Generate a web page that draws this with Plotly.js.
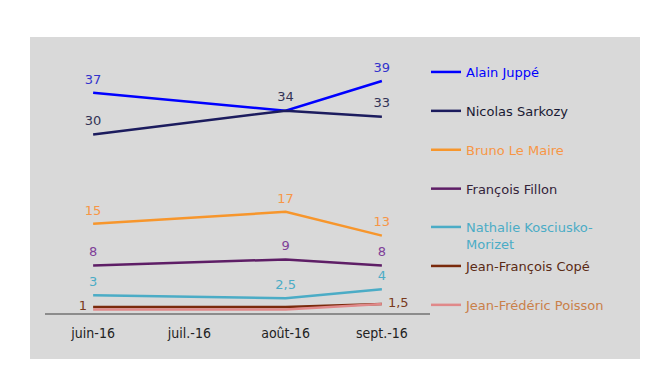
<!DOCTYPE html>
<html>
<head>
<meta charset="utf-8">
<script src="https://cdn.plot.ly/plotly-3.0.1.min.js"></script>
<style>html,body{margin:0;padding:0;background:#fff;}#chart{width:669px;height:380px;}</style>
</head>
<body>
<div id="chart"></div>
<script>
var months = ['juin-16', 'juil.-16', 'août-16', 'sept.-16'];
var names = ['Alain Juppé', 'Nicolas Sarkozy', 'Bruno Le Maire', 'François Fillon', 'Nathalie Kosciusko-<br>Morizet', 'Jean-François Copé', 'Jean-Frédéric Poisson'];
var juppe = [37, null, 34, 39];
var sarkozy = [30, null, 34, 33];
var lemaire = [15, null, 17, 13];
var fillon = [8, null, 9, 8];
var nkm = [3, null, 2.5, 4];
var cope = [1, null, 1, 1.5];
var poisson = [0.6, null, 0.6, 1.5];
var juppeLabels = ['37', '', '', '39'];
var sarkozyLabels = ['30', '', '34', '33'];
var lemaireLabels = ['15', '', '17', '13'];
var fillonLabels = ['8', '', '9', '8'];
var nkmLabels = ['3', '', '2,5', '4'];
var copeLabels = ['1', '', '', '1,5'];
var poissonLabels = ['', '', '', ''];

var series = [juppe, sarkozy, lemaire, fillon, nkm, cope, poisson];
var labels = [juppeLabels, sarkozyLabels, lemaireLabels, fillonLabels, nkmLabels, copeLabels, poissonLabels];
var lineColors = ['#0000ff', '#1c1c5e', '#f7962c', '#5e1e66', '#4bacc6', '#7a2a0c', '#e0898a'];
var labelColors = ['#3333cc', '#333355', '#f79646', '#7f3f98', '#4bacc6', '#7a3a1c', '#c0804a'];
var legendColors = ['#0000ff', '#1a1a33', '#f79646', '#33233a', '#4bacc6', '#5a2a14', '#c9804a'];
var legendIds = ['legend', 'legend', 'legend', 'legend', 'legend2', 'legend3', 'legend3'];
var positions = [
  'top center', 'top center', 'top center', 'top center', 'top center',
  ['middle left', 'top center', 'top center', 'middle right'], 'top center'
];

var font = 'DejaVu Sans, Verdana, sans-serif';
var traces = series.map(function (vals, i) {
  return {
    type: 'scatter',
    mode: 'lines+markers+text',
    x: months,
    y: vals,
    connectgaps: true,
    name: '<span style="color:' + legendColors[i] + '">' + names[i] + '</span>',
    legendgroup: 'g' + i,
    text: labels[i],
    textposition: positions[i],
    textfont: {family: font, size: 13, color: labelColors[i]},
    cliponaxis: false,
    marker: {size: 8, color: 'rgba(0,0,0,0)', line: {width: 0}},
    line: {color: lineColors[i], width: 2.5},
    hoverinfo: 'x+y',
    legend: legendIds[i]
  };
});

var legendBase = {
  xref: 'container', yref: 'container',
  x: 426 / 669,
  xanchor: 'left', yanchor: 'top',
  bgcolor: 'rgba(0,0,0,0)',
  font: {family: font, size: 13},
  traceorder: 'grouped',
  tracegroupgap: 19,
  valign: 'top'
};

var layout = {
  width: 669,
  height: 380,
  margin: {l: 45, r: 239, t: 75, b: 67, autoexpand: false},
  paper_bgcolor: '#ffffff',
  plot_bgcolor: 'rgba(0,0,0,0)',
  font: {family: font, size: 13, color: '#222'},
  showlegend: true,
  xaxis: {
    type: 'category',
    range: [-0.5, 3.5],
    showline: true,
    linecolor: '#8c8c8c',
    linewidth: 2,
    showgrid: false,
    zeroline: false,
    ticks: 'outside',
    ticklen: 6,
    tickcolor: 'rgba(0,0,0,0)',
    tickfont: {family: 'DejaVu Sans Condensed, DejaVu Sans, sans-serif', size: 14, color: '#222'}
  },
  yaxis: {
    range: [0, 40],
    visible: false,
    showgrid: false,
    zeroline: false
  },
  legend: Object.assign({}, legendBase, {y: 1 - 57 / 380}),
  legend2: Object.assign({}, legendBase, {y: 1 - 212 / 380}),
  legend3: Object.assign({}, legendBase, {y: 1 - 251 / 380}),
  shapes: [{
    type: 'rect', xref: 'paper', yref: 'paper',
    x0: (30 - 45) / 385, x1: (640 - 45) / 385,
    y0: (313 - 359) / 238, y1: (313 - 37) / 238,
    fillcolor: '#d9d9d9', line: {width: 0}, layer: 'below'
  }]
};

Plotly.newPlot('chart', traces, layout, {displayModeBar: false, staticPlot: true});
</script>
</body>
</html>
